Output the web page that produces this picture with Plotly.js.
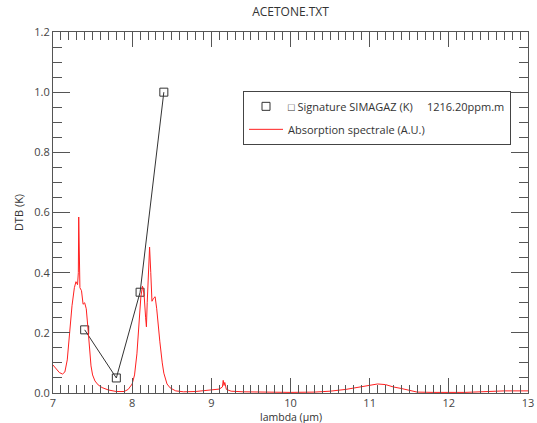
<!DOCTYPE html>
<html>
<head>
<meta charset="utf-8">
<script src="https://cdn.plot.ly/plotly-3.0.1.min.js"></script>
<style>html,body{margin:0;padding:0;background:#fff;}#chart{width:537px;height:423px;}</style>
</head>
<body>
<div id="chart"></div>
<script>
// Signature SIMAGAZ (K) points
const sigLambda = [7.4, 7.8, 8.1, 8.4];
const sigDTB = [0.21, 0.05, 0.335, 1.0];

// Absorption spectrale (A.U.)
const absLambda = [7.00, 7.04, 7.08, 7.12, 7.15, 7.18, 7.21, 7.24, 7.27, 7.29, 7.31, 7.32, 7.325, 7.33, 7.34, 7.36, 7.37, 7.38, 7.40, 7.42, 7.44, 7.46, 7.48, 7.50, 7.53, 7.57, 7.62, 7.70, 7.80, 7.90, 7.95, 8.00, 8.03, 8.06, 8.09, 8.11, 8.13, 8.15, 8.17, 8.18, 8.19, 8.205, 8.22, 8.235, 8.25, 8.27, 8.29, 8.31, 8.33, 8.35, 8.38, 8.40, 8.44, 8.48, 8.55, 8.65, 8.80, 8.90, 9.00, 9.10, 9.14, 9.15, 9.16, 9.17, 9.19, 9.25, 9.40, 9.60, 10.0, 10.3, 10.5, 10.7, 10.9, 11.0, 11.1, 11.2, 11.3, 11.4, 11.5, 11.6, 11.8, 12.2, 12.5, 12.7, 13.0];
const absValue = [0.093, 0.08, 0.068, 0.063, 0.07, 0.11, 0.2, 0.29, 0.35, 0.37, 0.36, 0.40, 0.585, 0.45, 0.35, 0.34, 0.31, 0.295, 0.30, 0.28, 0.22, 0.15, 0.09, 0.06, 0.04, 0.027, 0.018, 0.01, 0.005, 0.005, 0.012, 0.03, 0.06, 0.13, 0.24, 0.32, 0.355, 0.33, 0.25, 0.22, 0.30, 0.43, 0.485, 0.40, 0.305, 0.315, 0.32, 0.28, 0.22, 0.17, 0.10, 0.066, 0.03, 0.017, 0.007, 0.004, 0.005, 0.008, 0.012, 0.013, 0.02, 0.042, 0.025, 0.035, 0.012, 0.006, 0.004, 0.003, 0.002, 0.003, 0.006, 0.012, 0.022, 0.027, 0.03, 0.028, 0.02, 0.015, 0.008, 0.003, 0.002, 0.002, 0.005, 0.007, 0.007];

const xTicks = [7, 8, 9, 10, 11, 12, 13];
const yTicks = [0.0, 0.2, 0.4, 0.6, 0.8, 1.0, 1.2];

const sigLabel = 'Signature SIMAGAZ (K)';
const sigConc = '1216.20ppm.m';
const absLabel = 'Absorption spectrale (A.U.)';
const xTitle = 'lambda (µm)';
const yTitle = 'DTB (K)';

const NB = '\u00a0';
const traces = [
  {
    x: sigLambda, y: sigDTB, type: 'scatter', mode: 'lines+markers',
    showlegend: false,
    line: {color: '#333333', width: 1},
    marker: {symbol: 'square-open', size: 8, color: '#333333', line: {width: 1}}
  },
  {
    // legend-only entry (marker symbol, no line) for the signature series
    x: [null], y: [null], type: 'scatter', mode: 'markers',
    name: '\u25a1 ' + sigLabel + NB.repeat(5) + sigConc,
    legendgroup: 'a',
    marker: {symbol: 'square-open', size: 8, color: '#333333', line: {width: 1}}
  },
  {
    x: absLambda, y: absValue, type: 'scatter', mode: 'lines',
    name: absLabel,
    legendgroup: 'b',
    line: {color: '#ff2020', width: 1}
  }
];

const axisCommon = {
  showgrid: false, zeroline: false, showline: true, linecolor: '#555', linewidth: 1,
  mirror: 'allticks', ticks: 'inside', tickcolor: '#555', tickwidth: 1,
  tickfont: {family: 'Open Sans', size: 11, color: '#444'}
};

const layout = {
  width: 537, height: 423,
  margin: {l: 53, r: 9, t: 32, b: 30},
  paper_bgcolor: '#fff', plot_bgcolor: '#fff',
  font: {family: 'Open Sans', size: 11, color: '#444'},
  title: {text: 'ACETONE.TXT', x: 0.541, xanchor: 'center', y: 0.972, yanchor: 'middle', font: {family: 'Open Sans', size: 12, color: '#333'}},
  xaxis: Object.assign({}, axisCommon, {
    range: [7, 13], tickvals: xTicks, ticktext: xTicks.map(String), ticklen: 15,
    minor: {dtick: 0.1, ticklen: 8, tickcolor: '#555', ticks: 'inside'}
  }),
  yaxis: Object.assign({}, axisCommon, {
    range: [0, 1.2], tickvals: yTicks, ticktext: yTicks.map(v => v.toFixed(1)), ticklen: 17,
    minor: {dtick: 0.05, ticklen: 9, tickcolor: '#555', ticks: 'inside'},
    title: {text: yTitle, standoff: 8, font: {family: 'Open Sans', size: 11, color: '#333'}}
  }),
  annotations: [{
    text: xTitle, xref: 'paper', yref: 'paper', x: 0.5, y: -0.066,
    xanchor: 'center', yanchor: 'middle', showarrow: false,
    font: {family: 'Open Sans', size: 10.5, color: '#333'}
  }],
  showlegend: true,
  legend: {
    x: 0.4, y: 0.837, xanchor: 'left', yanchor: 'top',
    bgcolor: '#fff', bordercolor: '#444', borderwidth: 1,
    traceorder: 'grouped', tracegroupgap: 4, itemwidth: 34,
    font: {family: 'Open Sans', size: 11, color: '#333'}
  }
};

Plotly.newPlot('chart', traces, layout, {displayModeBar: false, staticPlot: true});
</script>
</body>
</html>
